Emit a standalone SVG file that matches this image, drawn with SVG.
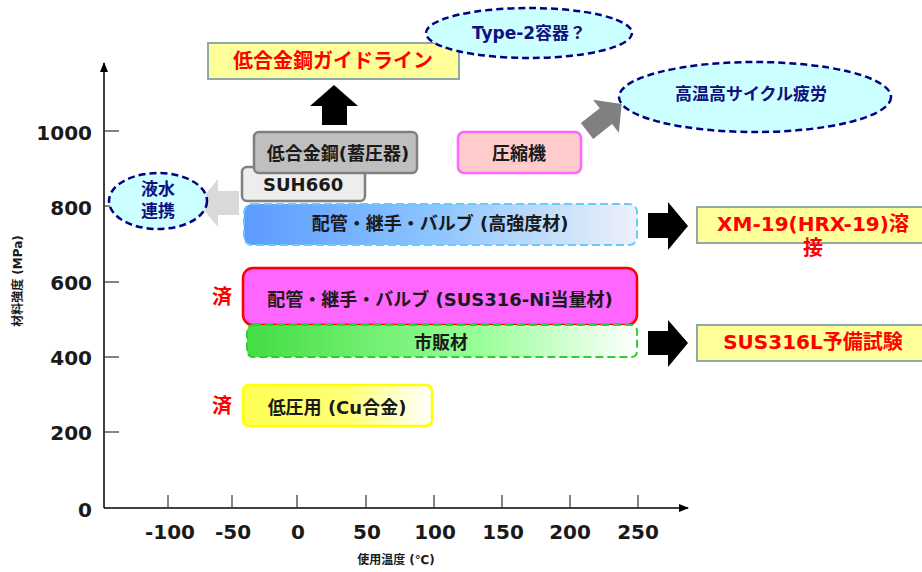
<svg xmlns="http://www.w3.org/2000/svg" width="922" height="572" viewBox="0 0 922 572">
<defs>
<linearGradient id="gBlue" x1="0" y1="0" x2="1" y2="0">
<stop offset="0" stop-color="#5c9bff"/><stop offset="0.5" stop-color="#8ec6ff"/><stop offset="1" stop-color="#eef1f8"/>
</linearGradient>
<linearGradient id="gGreen" x1="0" y1="0" x2="1" y2="0">
<stop offset="0" stop-color="#44dd44"/><stop offset="0.6" stop-color="#99ff99"/><stop offset="1" stop-color="#ffffff"/>
</linearGradient>
<linearGradient id="gYellow" x1="0" y1="0" x2="1" y2="0">
<stop offset="0" stop-color="#ffff55"/><stop offset="0.55" stop-color="#ffff77"/><stop offset="1" stop-color="#ffffff"/>
</linearGradient>
<marker id="axArrow" markerWidth="10" markerHeight="10" refX="9" refY="5" orient="auto" markerUnits="userSpaceOnUse">
<path d="M0,1 L10,5 L0,9 Z" fill="#000"/>
</marker>
</defs>
<style>
text{font-family:"DejaVu Sans","Noto Sans CJK JP",sans-serif;font-weight:bold;}
.t{font-size:18px;fill:#1a1a1a;text-anchor:middle;dominant-baseline:central;}
.ts{font-size:18px;fill:#1a1a1a;text-anchor:start;dominant-baseline:central;}
.red{font-size:20px;fill:#ff0000;text-anchor:middle;dominant-baseline:central;}
.navy{font-size:17px;fill:#101080;text-anchor:middle;dominant-baseline:central;}
.tick{font-size:20px;fill:#1a1a1a;dominant-baseline:central;}
.ax{stroke:#000;stroke-width:1.5;fill:none;}
.tk{stroke:#333;stroke-width:1.2;}
.ell{fill:#ccffff;stroke:#000080;stroke-width:2.5;stroke-dasharray:7 4;}
.note{fill:#ffff99;stroke:#8fa8a8;stroke-width:2;}
</style>
<rect width="922" height="572" fill="#fff"/>

<g id="axes">
<line class="ax" x1="104" y1="508" x2="104" y2="63" marker-end="url(#axArrow)"/>
<line class="ax" x1="104" y1="508" x2="688" y2="508" marker-end="url(#axArrow)"/>
<g class="tk">
<line x1="104" y1="131" x2="119" y2="131"/><line x1="104" y1="206" x2="119" y2="206"/><line x1="104" y1="282" x2="119" y2="282"/><line x1="104" y1="357" x2="119" y2="357"/><line x1="104" y1="432" x2="119" y2="432"/>
<line x1="168" y1="495" x2="168" y2="508"/><line x1="232" y1="495" x2="232" y2="508"/><line x1="297" y1="495" x2="297" y2="508"/><line x1="366" y1="495" x2="366" y2="508"/><line x1="434" y1="495" x2="434" y2="508"/><line x1="502" y1="495" x2="502" y2="508"/><line x1="570" y1="495" x2="570" y2="508"/><line x1="638" y1="495" x2="638" y2="508"/>
</g>
<g class="tick" text-anchor="end">
<text x="92" y="133">1000</text><text x="92" y="208">800</text><text x="92" y="283">600</text><text x="92" y="358">400</text><text x="92" y="433">200</text><text x="92" y="510">0</text>
</g>
<g class="tick" text-anchor="middle">
<text x="170" y="532">-100</text><text x="233" y="532">-50</text><text x="298" y="532">0</text><text x="367" y="532">50</text><text x="435" y="532">100</text><text x="503" y="532">150</text><text x="570" y="532">200</text><text x="638" y="532">250</text>
</g>
<text x="396" y="560" font-size="12" fill="#1a1a1a" text-anchor="middle" dominant-baseline="central">使用温度 (℃)</text>
<text transform="translate(18,281) rotate(-90)" font-size="12" fill="#1a1a1a" text-anchor="middle" dominant-baseline="central">材料強度 (MPa)</text>
</g>

<g id="connectors">
<polygon points="322,125 347,125 347,106 358,106 334,85 310,106 322,106" fill="#000"/>
<polygon transform="translate(587,131) rotate(-38)" points="0,-10 24,-10 24,-21 44,0 24,21 24,10 0,10" fill="#808080"/>
<polygon points="239,191 218,191 218,179 198,203 218,227 218,215 239,215" fill="#d9d9d9"/>
<polygon points="648,213 668,213 668,202 688,226 668,250 668,238 648,238" fill="#000"/>
<polygon points="648,331 668,331 668,320 688,343 668,367 668,355 648,355" fill="#000"/>
</g>

<g id="node-guideline">
<rect class="note" x="208" y="43" width="251" height="36"/>
<text class="red" x="333" y="61">低合金鋼ガイドライン</text>
</g>
<g id="node-type2">
<ellipse class="ell" cx="529" cy="33" rx="103" ry="25"/>
<text class="navy" x="529" y="33">Type-2容器？</text>
</g>
<g id="node-hightemp">
<ellipse class="ell" cx="755" cy="97" rx="136" ry="35"/>
<text class="navy" x="751" y="94" font-size="18">高温高サイクル疲労</text>
</g>
<g id="node-liquid">
<ellipse class="ell" cx="158" cy="201" rx="49" ry="28"/>
<text class="navy" x="158" y="189" font-size="18">液水</text>
<text class="navy" x="158" y="211" font-size="18">連携</text>
</g>
<g id="node-suh660">
<rect x="242" y="167" width="123" height="34" rx="5" fill="#ededed" stroke="#808080" stroke-width="2.5"/>
<text class="ts" x="263" y="184">SUH660</text>
</g>
<g id="node-lowalloy">
<rect x="254" y="132" width="163" height="41" rx="5" fill="#bfbfbf" stroke="#7f7f7f" stroke-width="2.5"/>
<text class="t" x="338" y="153">低合金鋼(蓄圧器)</text>
</g>
<g id="node-compressor">
<rect x="458" y="132" width="123" height="41" rx="6" fill="#ffcccc" stroke="#ff66ff" stroke-width="2.5"/>
<text class="t" x="519" y="153">圧縮機</text>
</g>
<g id="node-highstrength">
<rect x="244" y="204" width="393" height="41" rx="8" fill="url(#gBlue)" stroke="#66ccff" stroke-width="2" stroke-dasharray="8 4"/>
<text class="t" x="440" y="223">配管・継手・バルブ (高強度材)</text>
</g>
<g id="node-sus316">
<rect x="243" y="268" width="394" height="57" rx="10" fill="#ff66ff" stroke="#ff0000" stroke-width="2.5"/>
<text class="t" x="440" y="299">配管・継手・バルブ (SUS316-Ni当量材)</text>
</g>
<g id="node-commercial">
<rect x="247" y="325" width="390" height="32" rx="6" fill="url(#gGreen)" stroke="#33cc33" stroke-width="2" stroke-dasharray="8 4"/>
<text class="t" x="441" y="342">市販材</text>
</g>
<g id="node-lowpressure">
<rect x="243" y="385" width="189" height="41" rx="6" fill="url(#gYellow)" stroke="#ffff00" stroke-width="2.5"/>
<text class="t" x="337" y="407">低圧用 (Cu合金)</text>
</g>
<g id="done-labels">
<text class="red" x="222" y="297">済</text>
<text class="red" x="222" y="406">済</text>
</g>
<g id="node-xm19">
<rect class="note" x="697" y="207" width="232" height="36"/>
<text class="red" x="813" y="224">XM-19(HRX-19)溶</text>
<text class="red" x="813" y="248">接</text>
</g>
<g id="node-sus316l">
<rect class="note" x="697" y="325" width="232" height="36"/>
<text class="red" x="813" y="342">SUS316L予備試験</text>
</g>
</svg>
